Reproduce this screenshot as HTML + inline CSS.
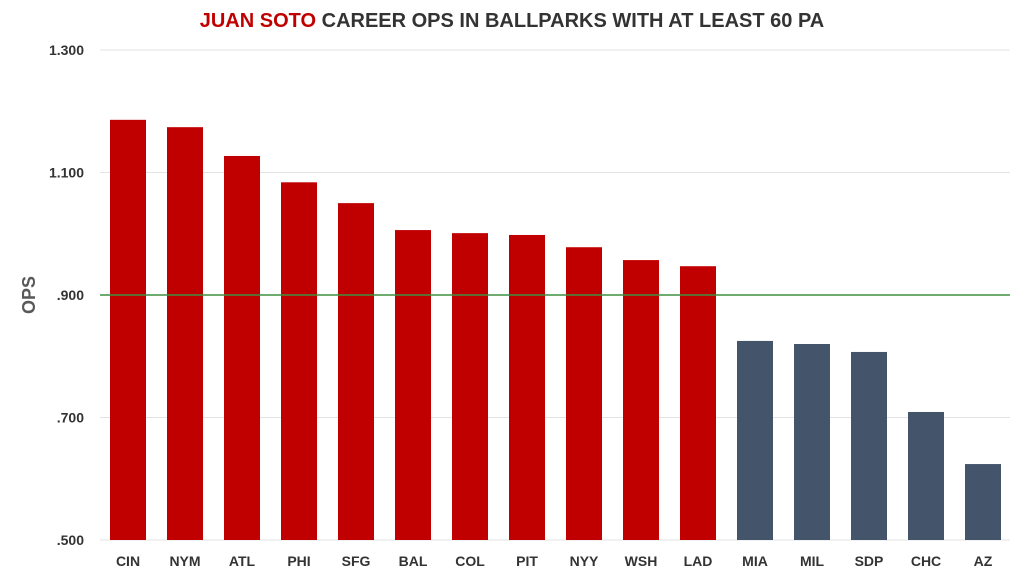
<!DOCTYPE html>
<html><head><meta charset="utf-8"><style>
body{margin:0;background:#fff;font-family:"Liberation Sans",sans-serif}
svg text{font-family:"Liberation Sans",sans-serif;font-weight:bold}
</style></head><body>
<svg id="chart" width="1024" height="576" viewBox="0 0 1024 576">
<text x="512" y="27" text-anchor="middle" font-size="20" fill="#333"><tspan fill="#c00000">JUAN SOTO</tspan> CAREER OPS IN BALLPARKS WITH AT LEAST 60 PA</text>
<text transform="translate(35,295) rotate(-90)" text-anchor="middle" font-size="18" fill="#595959">OPS</text>
<g id="grid"></g><g id="bars"></g><g id="labels"></g>
</svg>
<script>
const categories=["CIN","NYM","ATL","PHI","SFG","BAL","COL","PIT","NYY","WSH","LAD","MIA","MIL","SDP","CHC","AZ"];
const opsValues=[1.186,1.174,1.127,1.084,1.050,1.006,1.001,0.998,0.978,0.957,0.947,0.825,0.820,0.807,0.709,0.624];
const yTicks=[0.5,0.7,0.9,1.1,1.3];
const yTickLabels=[".500",".700",".900","1.100","1.300"];
const threshold=0.9;
const NS="http://www.w3.org/2000/svg";
const y=v=>540-(v-0.5)*612.5;
const x=i=>128+i*57;
const grid=document.getElementById('grid'),bars=document.getElementById('bars'),labels=document.getElementById('labels');
function mk(tag,attrs,parent){const e=document.createElementNS(NS,tag);for(const k in attrs)e.setAttribute(k,attrs[k]);parent.appendChild(e);return e;}
yTicks.forEach((t,i)=>{
 const l=mk('line',{x1:100,x2:1010,y1:y(t),y2:y(t),stroke:'#e3e3e3','stroke-width':1},grid);
 
 
 const tx=mk('text',{x:84,y:y(t)+5,'text-anchor':'end','font-size':14,fill:'#333'},labels);
 tx.textContent=yTickLabels[i];
 
 
});
categories.forEach((c,i)=>{
 const v=opsValues[i];
 const r=mk('rect',{x:x(i)-18,y:y(v),width:36,height:540-y(v),fill:v>=threshold?'#c00000':'#44546a'},bars);
 
 
 const tx=mk('text',{x:x(i),y:566,'text-anchor':'middle','font-size':14,fill:'#333'},labels);
 tx.textContent=c;
 
 
});
const th=mk('line',{x1:100,x2:1010,y1:y(threshold),y2:y(threshold),stroke:'#3f8f3f','stroke-width':1.5},bars);


</script>
</body></html>
